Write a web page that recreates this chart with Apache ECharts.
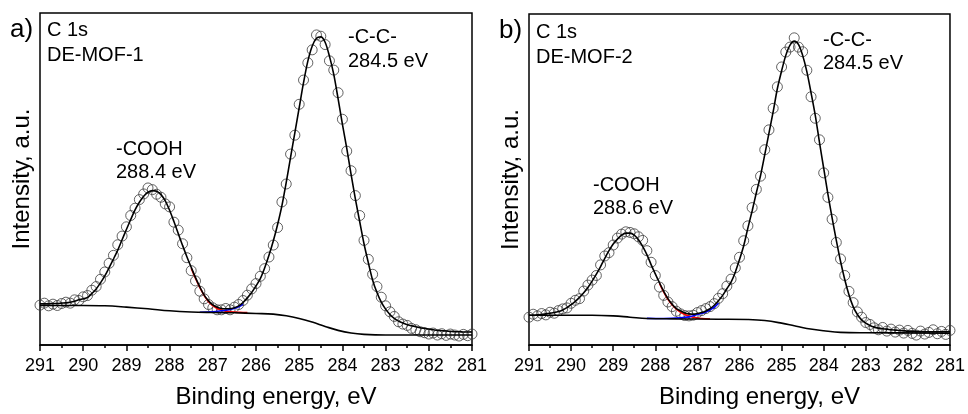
<!DOCTYPE html>
<html>
<head>
<meta charset="utf-8">
<script src="https://cdn.jsdelivr.net/npm/echarts@6/dist/echarts.min.js"></script>
<style>
html,body{margin:0;padding:0;background:#fff;}
#chart{width:968px;height:414px;}
</style>
</head>
<body>
<div id="chart"></div>
<script>
// Binding energy grid (eV), 0.1 eV steps
const energy = [291.0,290.9,290.8,290.7,290.6,290.5,290.4,290.3,290.2,290.1,
290.0,289.9,289.8,289.7,289.6,289.5,289.4,289.3,289.2,289.1,
289.0,288.9,288.8,288.7,288.6,288.5,288.4,288.3,288.2,288.1,
288.0,287.9,287.8,287.7,287.6,287.5,287.4,287.3,287.2,287.1,
287.0,286.9,286.8,286.7,286.6,286.5,286.4,286.3,286.2,286.1,
286.0,285.9,285.8,285.7,285.6,285.5,285.4,285.3,285.2,285.1,
285.0,284.9,284.8,284.7,284.6,284.5,284.4,284.3,284.2,284.1,
284.0,283.9,283.8,283.7,283.6,283.5,283.4,283.3,283.2,283.1,
283.0,282.9,282.8,282.7,282.6,282.5,282.4,282.3,282.2,282.1,
282.0,281.9,281.8,281.7,281.6,281.5,281.4,281.3,281.2,281.1,
281.0];

// Panel a) DE-MOF-1 measured intensity (a.u.)
const measuredA = [12.0,12.6,11.8,12.3,11.9,12.5,12.9,12.6,13.6,13.4,
14.5,14.9,16.5,17.6,19.8,22.0,24.6,27.0,30.2,32.8,
35.6,39.0,41.2,43.8,45.5,47.3,46.8,45.4,44.5,42.5,
41.6,37.0,34.6,30.5,26.3,22.4,19.3,16.2,13.9,12.2,
11.2,10.6,10.6,11.0,10.6,11.4,12.2,13.4,15.0,16.9,
18.5,20.7,23.0,26.5,30.1,35.4,43.1,48.5,57.5,63.2,
72.5,79.8,85.0,88.9,93.4,93.0,90.5,85.6,82.8,76.0,
68.0,58.4,52.5,45.0,39.0,31.5,25.8,21.3,17.6,14.4,
11.8,10.0,8.6,7.0,6.3,5.9,5.0,4.6,4.0,3.7,
3.3,3.6,3.0,3.4,2.9,3.3,3.0,2.7,3.2,2.8,
3.3];
// Panel a) fitted envelope
const fitA = [12.4,12.4,12.4,12.5,12.5,12.6,12.7,12.9,13.2,13.6,
13.9,14.3,15.5,16.9,18.7,20.8,23.3,25.9,28.6,31.7,
34.8,37.8,40.7,43.0,44.8,46.0,46.5,46.3,45.3,43.4,
40.6,37.2,33.6,30.0,26.6,23.4,20.3,17.5,15.0,13.3,
12.1,11.4,11.0,10.9,10.9,11.2,11.8,12.8,14.2,15.8,
17.8,20.0,23.2,27.0,31.3,36.3,42.0,49.0,56.5,64.0,
71.5,79.0,85.5,90.0,92.4,92.8,91.2,87.0,81.5,74.2,
66.5,59.3,51.5,44.0,37.2,30.5,24.8,19.5,15.8,12.9,
10.8,9.2,8.0,7.2,6.6,6.1,5.8,5.5,5.2,5.0,
4.8,4.6,4.4,4.3,4.2,4.1,4.0,4.0,3.9,3.9,
3.9];
// Panel a) Shirley background
const bgA_E = [291.0,290.0,289.5,289.0,288.5,288.0,287.5,287.0,286.5,286.0,285.6,285.3,285.0,284.7,284.4,284.1,283.8,283.5,283.0,281.0];
const bgA_I = [11.9,11.9,11.8,11.4,10.9,10.3,9.95,9.8,9.7,9.5,9.3,8.8,8.0,6.9,5.6,4.4,3.6,3.2,3.0,3.0];
// Panel a) components (visible parts near the valley)
const cooA_E = [287.5,287.3,287.1,286.9,286.7,286.5,286.3,286.2];
const cooA_I = [23.1,17.3,13.0,11.0,10.2,9.9,9.8,9.75];
const ccA_E = [287.3,287.0,286.8,286.6,286.4,286.3];
const ccA_I = [9.85,10.0,10.3,10.7,11.5,12.4];

// Panel b) DE-MOF-2 measured intensity (a.u.)
const measuredB = [8.4,9.3,8.8,9.5,9.1,9.9,9.6,10.4,10.9,11.2,
12.6,13.5,14.0,16.3,18.1,19.6,21.0,24.2,26.9,27.9,
30.2,32.3,33.5,34.2,34.0,33.6,32.7,31.6,28.5,25.0,
21.0,17.5,15.0,13.0,11.6,10.2,9.4,8.9,8.8,9.0,
9.8,10.4,11.0,11.6,12.5,14.1,15.5,17.8,19.9,23.3,
26.5,31.5,36.0,41.5,47.0,51.0,59.0,65.0,71.5,78.0,
84.0,88.5,90.0,92.8,90.0,88.6,83.0,75.0,68.5,62.0,
52.0,44.6,38.0,31.0,26.0,21.0,16.2,12.8,10.0,8.4,
6.8,6.2,5.2,4.6,5.3,4.2,4.8,3.9,4.5,3.6,
4.4,3.5,3.0,4.2,3.3,3.8,4.6,3.4,4.1,3.2,
4.4];
// Panel b) fitted envelope
const fitB = [9.0,9.0,9.1,9.2,9.4,9.6,9.8,10.1,10.6,11.3,
12.2,13.2,14.4,15.8,17.4,19.3,21.4,23.7,26.2,28.5,
30.5,32.0,33.2,33.8,33.8,33.2,31.8,29.8,27.3,24.3,
21.5,18.8,16.2,14.0,12.3,11.0,10.3,9.7,9.4,9.3,
9.5,9.8,10.3,11.0,12.0,13.4,15.0,17.0,19.0,22.0,
25.8,30.0,35.4,40.5,46.0,51.2,57.5,64.0,70.5,77.5,
82.8,87.5,90.6,91.8,90.8,87.5,82.6,76.2,69.4,61.2,
53.4,45.6,38.4,31.6,25.3,19.8,15.2,11.6,9.2,7.6,
6.6,5.9,5.4,5.1,4.9,4.8,4.6,4.5,4.4,4.3,
4.2,4.2,4.1,4.1,4.0,4.0,4.0,4.0,4.0,4.0,
4.0];
const bgB_E = [291.0,289.5,289.0,288.6,288.2,287.5,286.5,285.8,285.4,285.0,284.7,284.4,284.0,283.6,283.0,281.0];
const bgB_I = [9.0,9.0,8.8,8.4,8.0,7.9,7.8,7.7,7.4,6.6,5.8,5.0,4.3,3.8,3.7,3.6];
const cooB_E = [287.9,287.7,287.5,287.3,287.1,286.9,286.7];
const cooB_I = [18.6,13.8,10.8,9.2,8.4,8.0,7.85];
const ccB_E = [288.2,287.8,287.4,287.2,287.0,286.8,286.6,286.5];
const ccB_I = [8.05,8.0,8.2,8.5,9.2,10.0,11.4,12.6];

const xTicks = [291,290,289,288,287,286,285,284,283,282,281];

const FONT = '"Liberation Sans", Arial, sans-serif';
const pairs = (xs, ys) => xs.map((x, i) => [x, ys[i]]);

function xAxisCfg(gi) {
  return {
    gridIndex: gi, type: 'value', min: 281, max: 291, interval: 1, inverse: true,
    axisLine: {show: true, onZero: false, lineStyle: {color: '#000', width: 1.5}},
    axisTick: {show: true, length: 6, lineStyle: {color: '#000', width: 1.5}},
    minorTick: {show: true, splitNumber: 2, length: 3, lineStyle: {color: '#000', width: 1.5}},
    axisLabel: {fontSize: 18, color: '#000', fontFamily: FONT, margin: 12,
      formatter: v => (xTicks.indexOf(v) >= 0 ? String(v) : '')},
    splitLine: {show: false},
    name: 'Binding energy, eV', nameLocation: 'middle', nameGap: 40,
    nameTextStyle: {fontSize: 24, color: '#000', fontFamily: FONT, padding: [0, 0, 0, 40]}
  };
}
function yAxisCfg(gi) {
  return {
    gridIndex: gi, type: 'value', min: 0, max: 100,
    axisLine: {show: false}, axisTick: {show: false}, axisLabel: {show: false},
    splitLine: {show: false},
    name: 'Intensity, a.u.', nameLocation: 'middle', nameGap: 6,
    nameTextStyle: {fontSize: 24, color: '#000', fontFamily: FONT}
  };
}
function panelSeries(gi, meas, fit, bgE, bgI, cE, cI, bE, bI) {
  return [
    {type: 'scatter', xAxisIndex: gi, yAxisIndex: gi, data: pairs(energy, meas),
     symbol: 'circle', symbolSize: 10,
     itemStyle: {color: 'rgba(0,0,0,0)', borderColor: '#3c3c3c', borderWidth: 1}, z: 2},
    {type: 'line', xAxisIndex: gi, yAxisIndex: gi, data: pairs(cE, cI), smooth: 0.4,
     showSymbol: false, lineStyle: {color: '#ff0000', width: 1.6}, z: 3},
    {type: 'line', xAxisIndex: gi, yAxisIndex: gi, data: pairs(bE, bI), smooth: 0.4,
     showSymbol: false, lineStyle: {color: '#0000ff', width: 1.6}, z: 3},
    {type: 'line', xAxisIndex: gi, yAxisIndex: gi, data: pairs(bgE, bgI), smooth: 0.4,
     showSymbol: false, lineStyle: {color: '#000', width: 1.6}, z: 4},
    {type: 'line', xAxisIndex: gi, yAxisIndex: gi, data: pairs(energy, fit), smooth: 0.3,
     showSymbol: false, lineStyle: {color: '#000', width: 1.6}, z: 5}
  ];
}
function txt(x, y, s, size) {
  return {type: 'text', left: x, top: y, z: 100,
    style: {text: s, fill: '#000', font: (size || 20) + 'px ' + FONT}};
}

const chart = echarts.init(document.getElementById('chart'), null, {renderer: 'canvas'});
chart.setOption({
  animation: false,
  backgroundColor: '#fff',
  grid: [
    {left: 40, top: 13, width: 432, height: 337, show: true, borderColor: '#000', borderWidth: 1.5, backgroundColor: 'transparent'},
    {left: 529, top: 14, width: 423, height: 335, show: true, borderColor: '#000', borderWidth: 1.5, backgroundColor: 'transparent'}
  ],
  xAxis: [xAxisCfg(0), xAxisCfg(1)],
  yAxis: [yAxisCfg(0), yAxisCfg(1)],
  series: [].concat(
    panelSeries(0, measuredA, fitA, bgA_E, bgA_I, cooA_E, cooA_I, ccA_E, ccA_I),
    panelSeries(1, measuredB, fitB, bgB_E, bgB_I, cooB_E, cooB_I, ccB_E, ccB_I)
  ),
  graphic: [
    txt(10, 17, 'a)', 26),
    txt(47, 20, 'C 1s'),
    txt(47, 45, 'DE-MOF-1'),
    txt(348, 27, '-C-C-'),
    txt(348, 51, '284.5 eV'),
    txt(116, 139, '-COOH'),
    txt(116, 162, '288.4 eV'),
    txt(499, 18, 'b)', 26),
    txt(536, 22, 'C 1s'),
    txt(536, 47, 'DE-MOF-2'),
    txt(823, 30, '-C-C-'),
    txt(823, 53, '284.5 eV'),
    txt(593, 175, '-COOH'),
    txt(593, 198, '288.6 eV')
  ]
});
</script>
</body>
</html>
